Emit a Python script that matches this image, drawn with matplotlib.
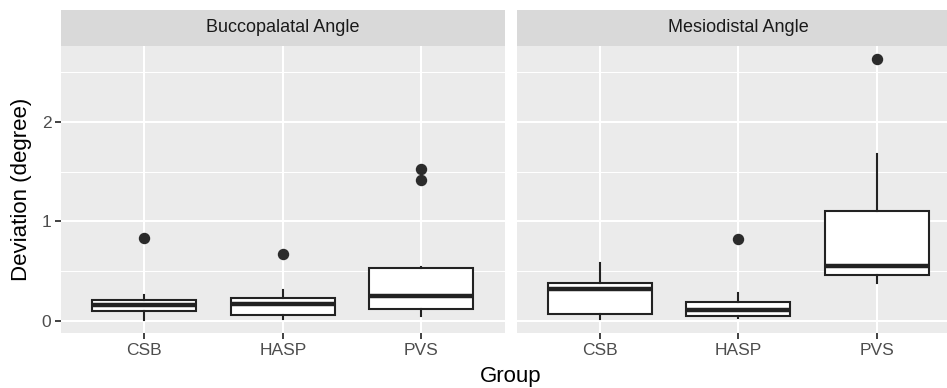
import matplotlib
matplotlib.use("Agg")
import matplotlib.pyplot as plt
from matplotlib.ticker import MultipleLocator

plt.rcParams['font.family'] = ['Liberation Sans', 'DejaVu Sans']

PANELS = ["Buccopalatal Angle", "Mesiodistal Angle"]
GROUPS = ["CSB", "HASP", "PVS"]

# box statistics, one list per panel (CSB, HASP, PVS)
BP_Q1 = [0.094, 0.060, 0.118]
BP_MED = [0.155, 0.168, 0.249]
BP_Q3 = [0.209, 0.232, 0.531]
BP_LO = [0.007, 0.014, 0.050]
BP_HI = [0.256, 0.306, 0.544]
BP_OUT = [[0.837], [0.669], [1.415, 1.529]]

MD_Q1 = [0.071, 0.050, 0.457]
MD_MED = [0.316, 0.105, 0.551]
MD_Q3 = [0.380, 0.185, 1.106]
MD_LO = [0.014, 0.030, 0.383]
MD_HI = [0.585, 0.282, 1.680]
MD_OUT = [[], [0.820], [2.635]]

PANEL_BG, STRIP_BG = '#EBEBEB', '#D9D9D9'
TXT, TICK_TXT, TICK_CLR = '#1A1A1A', '#4D4D4D', '#333333'


def stats(q1, med, q3, lo, hi, out):
    return [dict(q1=a, med=b, q3=c, whislo=d, whishi=e, fliers=f, label=g)
            for a, b, c, d, e, f, g in zip(q1, med, q3, lo, hi, out, GROUPS)]


data = [stats(BP_Q1, BP_MED, BP_Q3, BP_LO, BP_HI, BP_OUT),
        stats(MD_Q1, MD_MED, MD_Q3, MD_LO, MD_HI, MD_OUT)]

# ggplot style 5% expansion of the shared y range
vals = []
for st in data:
    for s in st:
        vals += [s['whislo'], s['whishi']] + list(s['fliers'])
lo, hi = min(vals), max(vals)
pad = 0.05 * (hi - lo)

W, H = 947, 388
fig = plt.figure(figsize=(W / 100, H / 100), dpi=100)
fig.patch.set_facecolor('white')

PX_L = [61, 516.7]
PW = 443.5
P_TOP, P_BOT, S_TOP = 46, 333, 10

for i, (name, st) in enumerate(zip(PANELS, data)):
    ax = fig.add_axes([PX_L[i] / W, (H - P_BOT) / H, PW / W, (P_BOT - P_TOP) / H])
    ax.set_facecolor(PANEL_BG)
    for sp in ax.spines.values():
        sp.set_visible(False)
    ax.set_xlim(0.4, 3.6)
    ax.set_ylim(lo - pad, hi + pad)
    ax.yaxis.set_major_locator(MultipleLocator(1))
    ax.yaxis.set_minor_locator(MultipleLocator(0.5))
    ax.grid(which='major', color='white', lw=1.5)
    ax.grid(which='minor', axis='y', color='white', lw=0.75)
    ax.set_axisbelow(True)

    ax.bxp(st, positions=[1, 2, 3], widths=0.75, showcaps=False, patch_artist=True,
           boxprops=dict(facecolor='white', edgecolor='#222222', lw=1.5),
           whiskerprops=dict(color='#222222', lw=1.5),
           medianprops=dict(color='#222222', lw=3.2, solid_capstyle='butt'),
           flierprops=dict(marker='o', markerfacecolor='#2B2B2B', markeredgecolor='#2B2B2B',
                           markersize=7.2))
    ax.set_xticks([1, 2, 3])
    ax.set_xticklabels(GROUPS)
    ax.tick_params(axis='both', which='major', length=4, width=1.3, color=TICK_CLR,
                   labelcolor=TICK_TXT, labelsize=12.5, pad=3)
    ax.tick_params(axis='y', which='minor', length=0)
    if i == 1:
        ax.tick_params(axis='y', which='major', length=0, labelleft=False)

    sax = fig.add_axes([PX_L[i] / W, (H - P_TOP) / H, PW / W, (P_TOP - S_TOP) / H])
    sax.set_facecolor(STRIP_BG)
    sax.set_xticks([]); sax.set_yticks([])
    for sp in sax.spines.values():
        sp.set_visible(False)
    sax.text(0.5, 0.5, name, ha='center', va='center', fontsize=13, color=TXT,
             transform=sax.transAxes)

fig.text(511 / W, (H - 376.7) / H, "Group", ha='center', va='center', fontsize=16, color='black')
fig.text(21.7 / W, (H - 189.5) / H, "Deviation (degree)", ha='center', va='center',
         rotation=90, fontsize=16, color='black')

fig.savefig("out.png", dpi=100, facecolor='white')
